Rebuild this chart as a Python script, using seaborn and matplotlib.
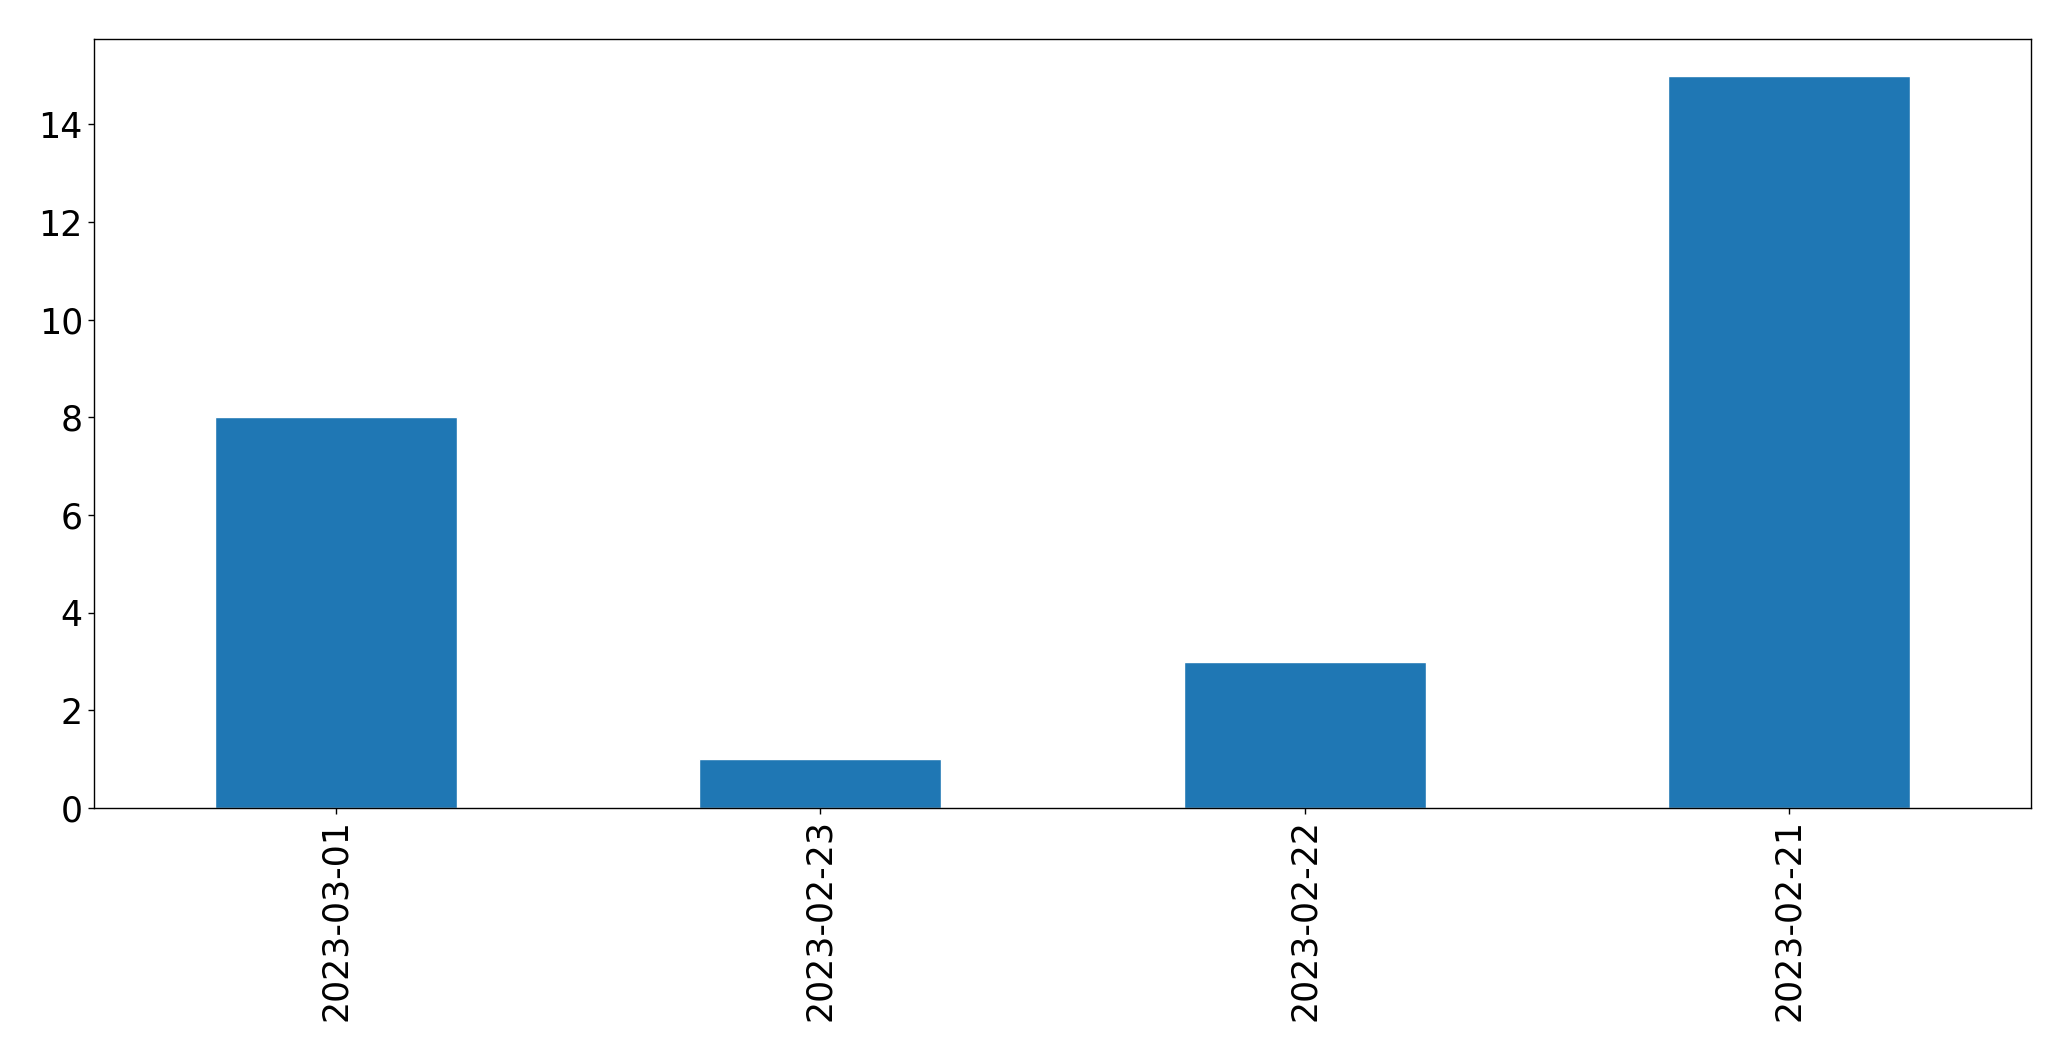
from matplotlib import pyplot as plt
import pandas as pd
import seaborn as sns

sns.set_style('white')

dates = ['2023-03-01', '2023-02-23', '2023-02-22', '2023-02-21']
counts = [8, 1, 3, 15]

df = pd.DataFrame({'date': dates, 'count': counts})

fig = plt.figure(figsize=(20.71, 10.61), dpi=100)
ax = fig.add_axes([94 / 2071, 1 - 808 / 1061, (2031 - 94) / 2071, (808 - 39) / 1061])
sns.barplot(x='date', y='count', data=df, order=dates, color='#1f77b4',
            saturation=1, width=0.5, ax=ax)
ax.set_xlim(-0.5, 3.5)
ax.set_ylim(0, 15.75)
ax.set_xlabel('')
ax.set_ylabel('')
ax.tick_params(axis='both', labelsize=25, length=4.5, width=1, colors='black', left=True, bottom=True)
ax.tick_params(axis='x', labelrotation=90)
for s in ax.spines.values():
    s.set_visible(True)
    s.set_color('black')
    s.set_linewidth(1)
fig.savefig('out.png', dpi=100)
